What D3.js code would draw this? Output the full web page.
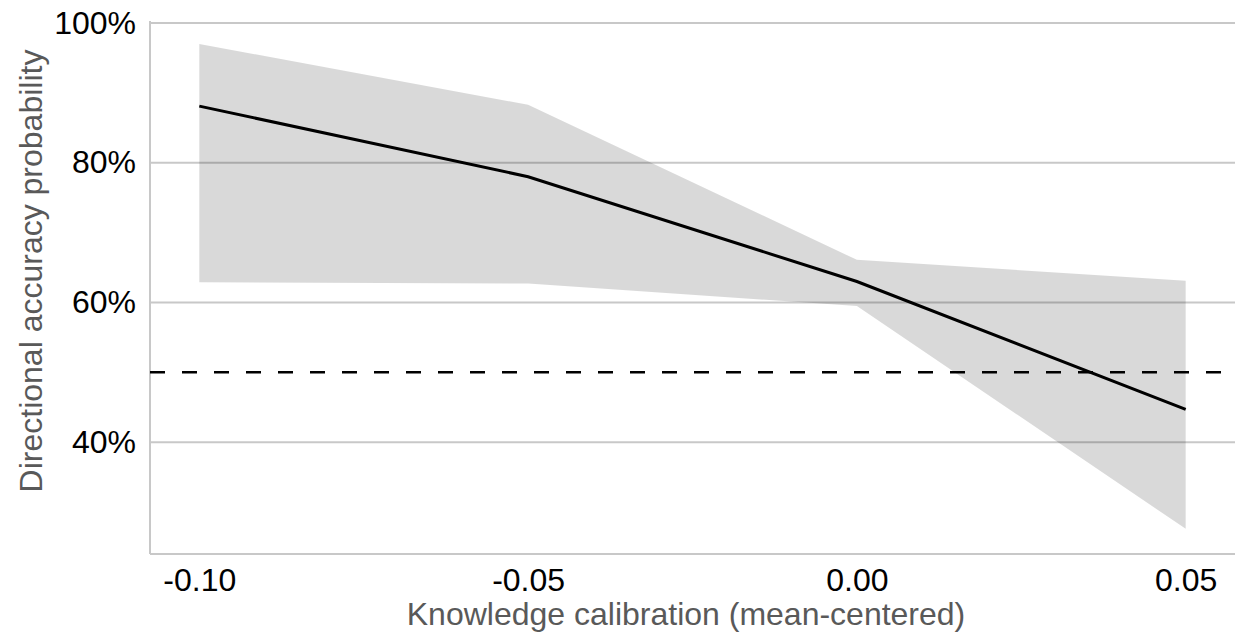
<!DOCTYPE html>
<html>
<head>
<meta charset="utf-8">
<script src="https://cdn.jsdelivr.net/npm/d3@7"></script>
<style>
  html, body { margin: 0; padding: 0; background: #fff; }
  svg { display: block; font-family: "Liberation Sans", Arial, sans-serif; }
</style>
</head>
<body>
<svg id="chart" width="1238" height="639"></svg>
<script>
// values
var calibration = [-0.10, -0.05, 0.00, 0.05];
var accuracy    = [0.881, 0.780, 0.630, 0.447];
var upperBound  = [0.970, 0.883, 0.661, 0.631];
var lowerBound  = [0.629, 0.627, 0.595, 0.276];
var xTicks      = [-0.10, -0.05, 0.00, 0.05];
var yTicks      = [0.4, 0.6, 0.8, 1.0];
var chance      = 0.5;

var svg = d3.select('#chart'),
    margin = { top: 23, right: 3, bottom: 85, left: 150 },
    width = 1238 - margin.left - margin.right,
    height = 639 - margin.top - margin.bottom;

var x = d3.scaleLinear()
    .domain([-0.1075, 0.0575])
    .range([0, width]);

var y = d3.scaleLinear()
    .domain([0.24, 1.0])
    .range([height, 0]);

var g = svg.append('g')
    .attr('transform', 'translate(' + margin.left + ',' + margin.top + ')');

var rows = calibration.map(function( c, i ){
    return { x: c, mean: accuracy[i], hi: upperBound[i], lo: lowerBound[i] };
});

// gridlines
g.append('g')
    .selectAll('line')
    .data(yTicks)
    .enter().append('line')
    .attr('x1', 0)
    .attr('x2', width)
    .attr('y1', function( d ){ return y(d); })
    .attr('y2', function( d ){ return y(d); })
    .attr('stroke', '#c8c8c8')
    .attr('stroke-width', 2);

// confidence band
var area = d3.area()
    .x(function( d ){ return x(d.x); })
    .y0(function( d ){ return y(d.lo); })
    .y1(function( d ){ return y(d.hi); });

g.append('path')
    .datum(rows)
    .attr('d', area)
    .attr('fill', '#000')
    .attr('fill-opacity', 0.15);

// axis lines
g.append('line')
    .attr('x1', 0).attr('x2', 0)
    .attr('y1', -2).attr('y2', height)
    .attr('stroke', '#c8c8c8')
    .attr('stroke-width', 2);

g.append('line')
    .attr('x1', 0).attr('x2', width)
    .attr('y1', height).attr('y2', height)
    .attr('stroke', '#c8c8c8')
    .attr('stroke-width', 2);

// chance reference
g.append('line')
    .attr('x1', 0)
    .attr('x2', width)
    .attr('y1', y(chance))
    .attr('y2', y(chance))
    .attr('stroke', '#000')
    .attr('stroke-width', 2.5)
    .attr('stroke-dasharray', '15,17');

// predicted line
var line = d3.line()
    .x(function( d ){ return x(d.x); })
    .y(function( d ){ return y(d.mean); });

g.append('path')
    .datum(rows)
    .attr('d', line)
    .attr('fill', 'none')
    .attr('stroke', '#000')
    .attr('stroke-width', 3);

// y tick labels
var yAxis = d3.axisLeft(y)
    .tickValues(yTicks)
    .tickFormat(d3.format('.0%'))
    .tickSize(0)
    .tickPadding(14);

g.append('g')
    .call(yAxis)
    .call(function( s ){ s.select('.domain').remove(); })
    .selectAll('text')
    .attr('font-size', 32)
    .attr('font-family', '"Liberation Sans", Arial, sans-serif')
    .attr('fill', '#000');

// x tick labels, plain hyphen like the original
var fmt = d3.format('.2f');
var xAxis = d3.axisBottom(x)
    .tickValues(xTicks)
    .tickFormat(function( d ){ return fmt(d).replace('\u2212', '-'); })
    .tickSize(0)
    .tickPadding(14);

g.append('g')
    .attr('transform', 'translate(0,' + height + ')')
    .call(xAxis)
    .call(function( s ){ s.select('.domain').remove(); })
    .selectAll('text')
    .attr('font-size', 32)
    .attr('font-family', '"Liberation Sans", Arial, sans-serif')
    .attr('fill', '#000');

// axis titles
svg.append('text')
    .attr('x', 686)
    .attr('y', 625)
    .attr('text-anchor', 'middle')
    .attr('font-size', 32)
    .attr('fill', '#595959')
    .text('Knowledge calibration (mean-centered)');

svg.append('text')
    .attr('transform', 'translate(42,271) rotate(-90)')
    .attr('text-anchor', 'middle')
    .attr('font-size', 32)
    .attr('fill', '#595959')
    .text('Directional accuracy probability');
</script>
</body>
</html>
